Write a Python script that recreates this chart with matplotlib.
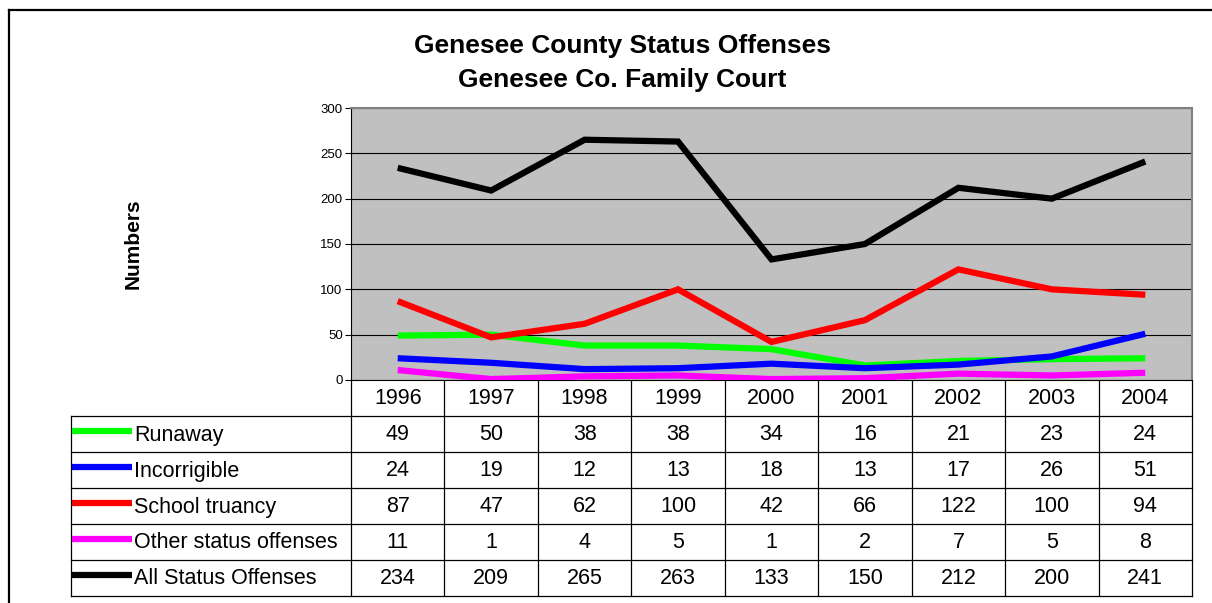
import matplotlib
matplotlib.use("Agg")
import matplotlib.pyplot as plt

plt.rcParams['font.family'] = ['Liberation Sans', 'DejaVu Sans']

# data
years = ["1996", "1997", "1998", "1999", "2000", "2001", "2002", "2003", "2004"]
runaway = [49, 50, 38, 38, 34, 16, 21, 23, 24]
incorrigible = [24, 19, 12, 13, 18, 13, 17, 26, 51]
truancy = [87, 47, 62, 100, 42, 66, 122, 100, 94]
other = [11, 1, 4, 5, 1, 2, 7, 5, 8]
all_status = [234, 209, 265, 263, 133, 150, 212, 200, 241]

series = [
    ("Runaway", runaway, "#00ff00"),
    ("Incorrigible", incorrigible, "#0000ff"),
    ("School truancy", truancy, "#ff0000"),
    ("Other status offenses", other, "#ff00ff"),
    ("All Status Offenses", all_status, "#000000"),
]

W, H = 1212, 603
fig = plt.figure(figsize=(W / 100, H / 100), dpi=100)

# plot area in pixels
px0, px1, py0, py1 = 351, 1192, 108, 380
ax = fig.add_axes([px0 / W, (H - py1) / H, (px1 - px0) / W, (py1 - py0) / H])
ax.set_facecolor("#c0c0c0")
n = len(years)
for name, vals, col in series:
    ax.plot(range(n), vals, color=col, lw=4.5, solid_capstyle="butt",
            solid_joinstyle="miter", zorder=3)
ax.set_xlim(-0.5, n - 0.5)
ax.set_ylim(0, 300)
ax.set_yticks(range(0, 301, 50))
ax.yaxis.grid(True, color="black", lw=0.8)
ax.set_axisbelow(True)
ax.set_xticks([])
ax.tick_params(axis="y", labelsize=9.5, length=4, width=0.8, pad=2)
for s in ["top", "right"]:
    ax.spines[s].set_color("#808080")
    ax.spines[s].set_linewidth(1.5)
for s in ["left", "bottom"]:
    ax.spines[s].set_color("black")
    ax.spines[s].set_linewidth(0.8)

# overlay in pixel coordinates for frame, title and data table
ov = fig.add_axes([0, 0, 1, 1], zorder=-1)
ov.set_xlim(0, W)
ov.set_ylim(H, 0)
ov.axis("off")

ov.plot([9, W], [10, 10], color="black", lw=1.6)
ov.plot([9, 9], [10, H], color="black", lw=1.6)

ov.text(622, 46, "Genesee County Status Offenses", ha="center", va="center",
        fontsize=19, fontweight="bold")
ov.text(622, 80, "Genesee Co. Family Court", ha="center", va="center",
        fontsize=19, fontweight="bold")
ov.text(133, 244, "Numbers", rotation=90, ha="center", va="center",
        fontsize=15, fontweight="bold")

colw = (px1 - px0) / n
rowh = 36
tl = 71
rows_top = py1 + rowh
bottom = rows_top + rowh * len(series)
lc = "black"
lw = 0.9
for k in range(n + 1):
    x = px0 + k * colw
    ov.plot([x, x], [py1, bottom], color=lc, lw=lw)
ov.plot([tl, tl], [rows_top, bottom], color=lc, lw=lw)
for r in range(len(series) + 1):
    y = rows_top + r * rowh
    ov.plot([tl, px1], [y, y], color=lc, lw=lw)

fs = 15.5
for i, yr in enumerate(years):
    ov.text(px0 + (i + 0.5) * colw, py1 + rowh / 2, yr, ha="center",
            va="center", fontsize=fs)
for r, (name, vals, col) in enumerate(series):
    yc = rows_top + r * rowh + rowh / 2
    ov.plot([72, 132], [yc - 3, yc - 3], color=col, lw=4.5, solid_capstyle="butt")
    ov.text(134, yc + 1, name, ha="left", va="center", fontsize=fs)
    for i, v in enumerate(vals):
        ov.text(px0 + (i + 0.5) * colw, yc, str(v), ha="center",
                va="center", fontsize=fs)

fig.savefig("out.png", dpi=100)
